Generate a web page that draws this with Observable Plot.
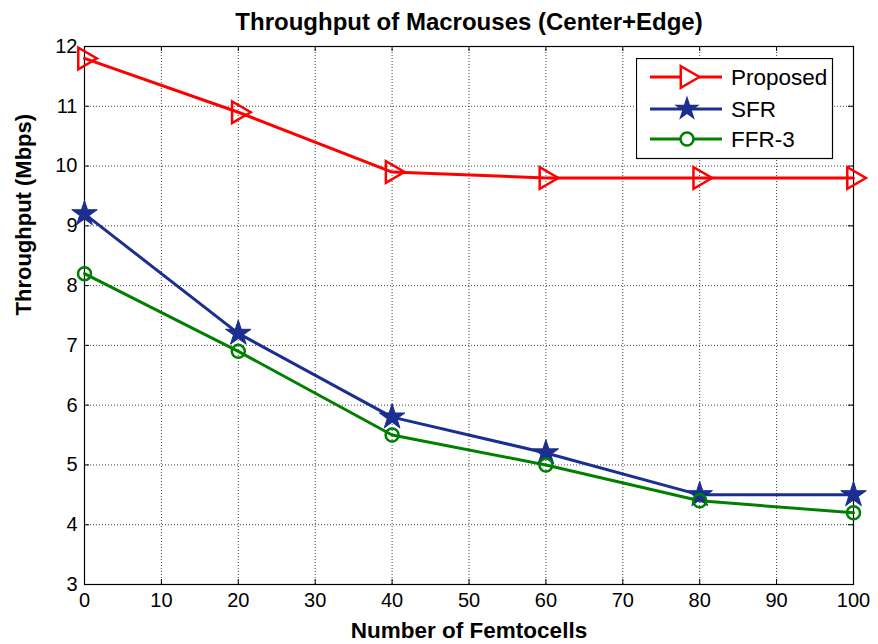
<!DOCTYPE html>
<html>
<head>
<meta charset="utf-8">
<script src="https://cdn.jsdelivr.net/npm/d3@7"></script>
<script src="https://cdn.jsdelivr.net/npm/@observablehq/plot@0.6"></script>
<style>
  html, body { margin: 0; padding: 0; background: #fff; }
  #wrap { position: relative; width: 878px; height: 644px; font-family: "Liberation Sans", Arial, sans-serif; }
  #legend { position: absolute; left: 636px; top: 58px; }
</style>
</head>
<body>
<div id="wrap"></div>
<script>
const femtocells = [0, 20, 40, 60, 80, 100];
const proposed = [11.8, 10.9, 9.9, 9.8, 9.8, 9.8];
const sfr = [9.2, 7.2, 5.8, 5.2, 4.5, 4.5];
const ffr3 = [8.2, 6.9, 5.5, 5.0, 4.4, 4.2];
const seriesNames = ["Proposed", "SFR", "FFR-3"];
const seriesColors = ["#ff0000", "#1a2f8f", "#008000"];
const xTicks = [0, 10, 20, 30, 40, 50, 60, 70, 80, 90, 100];
const yTicks = [3, 4, 5, 6, 7, 8, 9, 10, 11, 12];
const titleText = "Throughput of Macrouses (Center+Edge)";
const xLabel = "Number of Femtocells";
const yLabel = "Throughput (Mbps)";

const seriesValues = [proposed, sfr, ffr3];
const rows = seriesNames.flatMap((s, i) => femtocells.map((x, j) => ({series: s, x, y: seriesValues[i][j]})));

const W = 878, H = 644, mL = 84, mR = 25, mT = 46, mB = 60;
const plotW = W - mL - mR, plotH = H - mT - mB;
const grid = {stroke: "black", strokeDasharray: "1,2", strokeOpacity: 0.75, strokeWidth: 1};

const chart = Plot.plot({
  width: W, height: H,
  marginLeft: mL, marginRight: mR, marginTop: mT, marginBottom: mB,
  style: {fontFamily: "'Liberation Sans', Arial, sans-serif", fontSize: "20px", color: "black", background: "white"},
  x: {domain: [0, 100]},
  y: {domain: [3, 12]},
  color: {domain: seriesNames, range: seriesColors},
  marks: [
    Plot.gridX(xTicks, grid),
    Plot.gridY(yTicks, grid),
    Plot.ruleX(xTicks, {x: d => d, insetTop: plotH - 5, stroke: "black"}),
    Plot.ruleX(xTicks, {x: d => d, insetBottom: plotH - 5, stroke: "black"}),
    Plot.ruleY(yTicks, {y: d => d, insetRight: plotW - 5, stroke: "black"}),
    Plot.ruleY(yTicks, {y: d => d, insetLeft: plotW - 5, stroke: "black"}),
    Plot.frame({stroke: "black", strokeWidth: 1.2}),
    Plot.axisX(xTicks, {tickSize: 0, tickPadding: 8, fontSize: 20, tickFormat: "d", label: null}),
    Plot.axisY(yTicks, {tickSize: 0, tickPadding: 7, fontSize: 20, tickFormat: "d", label: null}),
    Plot.line(rows, {x: "x", y: "y", z: "series", stroke: "series", strokeWidth: 3}),
    Plot.dot(rows.filter(d => d.series === "Proposed"), {x: "x", y: "y", symbol: "triangle", rotate: 90, r: 8, stroke: seriesColors[0], fill: "none", strokeWidth: 2.5}),
    Plot.dot(rows.filter(d => d.series === "SFR"), {x: "x", y: "y", symbol: "star", r: 8, fill: seriesColors[1], stroke: seriesColors[1], strokeWidth: 1}),
    Plot.dot(rows.filter(d => d.series === "FFR-3"), {x: "x", y: "y", symbol: "circle", r: 6.5, stroke: seriesColors[2], fill: "none", strokeWidth: 2.5}),
    Plot.text([titleText], {frameAnchor: "top", lineAnchor: "middle", dy: -24, fontWeight: "bold", fontSize: 24}),
    Plot.text([xLabel], {frameAnchor: "bottom", lineAnchor: "middle", dy: 46, fontWeight: "bold", fontSize: 22.5}),
    Plot.text([yLabel], {frameAnchor: "left", lineAnchor: "middle", dx: -61, rotate: -90, fontWeight: "bold", fontSize: 22})
  ]
});
document.getElementById("wrap").appendChild(chart);

// Legend
const lg = d3.select("#wrap").append("svg").attr("id", "legend")
  .attr("width", 198).attr("height", 102);
lg.append("rect").attr("x", 0.5).attr("y", 0.5).attr("width", 196).attr("height", 100)
  .attr("fill", "white").attr("stroke", "black").attr("stroke-width", 1.2);
const sym = [d3.symbolTriangle, d3.symbolStar, d3.symbolCircle];
const rowY = [19, 51, 81];
seriesNames.forEach((name, i) => {
  const cy = rowY[i];
  const g = lg.append("g");
  g.append("line").attr("x1", 14).attr("x2", 86).attr("y1", cy).attr("y2", cy)
    .attr("stroke", seriesColors[i]).attr("stroke-width", 3);
  const size = [Math.PI * 64, Math.PI * 64, Math.PI * 6.5 * 6.5][i];
  const p = g.append("path").attr("d", d3.symbol(sym[i], size)())
    .attr("transform", `translate(51,${cy})` + (i === 0 ? " rotate(90)" : ""));
  if (i === 1) p.attr("fill", seriesColors[i]);
  else p.attr("fill", "white").attr("stroke", seriesColors[i]).attr("stroke-width", 2.5);
  g.append("text").attr("x", 95).attr("y", cy).attr("dy", "0.35em")
    .attr("font-size", 22.5).attr("font-family", "'Liberation Sans', Arial, sans-serif")
    .text(name);
});
</script>
</body>
</html>
